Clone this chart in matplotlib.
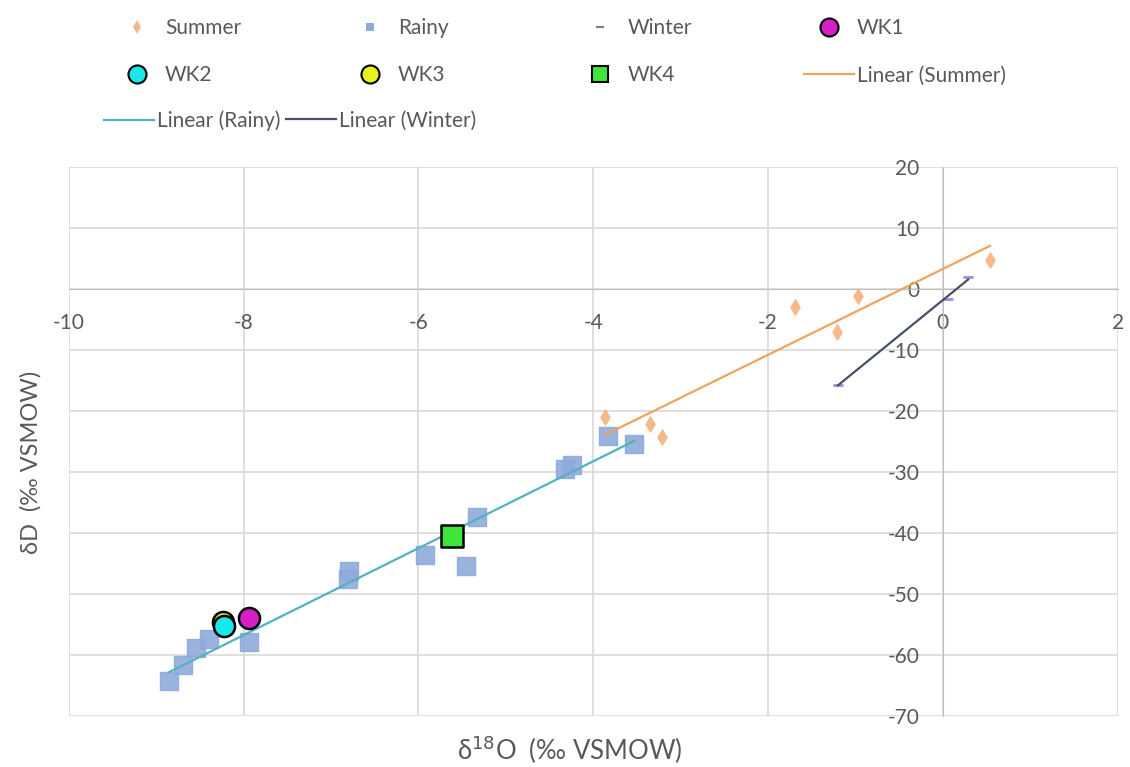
import numpy as np
import matplotlib
matplotlib.use("Agg")
import matplotlib.pyplot as plt
from matplotlib.lines import Line2D

plt.rcParams['font.family'] = ['Lato', 'DejaVu Sans']
plt.rcParams['axes.unicode_minus'] = False

# data
summer_x = [-3.87, -3.35, -3.21, -1.69, -1.21, -0.97, 0.54]
summer_y = [-21.0, -22.1, -24.3, -3.0, -7.0, -1.1, 4.8]

rainy_x = [-8.86, -8.70, -8.55, -8.40, -7.94, -6.81, -6.79, -5.93, -5.46, -5.33,
           -4.32, -4.24, -3.83, -3.53]
rainy_y = [-64.3, -61.6, -58.9, -57.4, -57.8, -47.6, -46.2, -43.6, -45.4, -37.4,
           -29.5, -28.9, -24.1, -25.4]

winter_x = [-1.20, 0.06, 0.29]
winter_y = [-15.7, -1.6, 2.0]

wk_names = ['WK1', 'WK2', 'WK3', 'WK4']
wk_x = [-7.94, -8.22, -8.24, -5.62]
wk_y = [-53.9, -55.3, -54.6, -40.5]
wk_colors = ['#d61fc8', '#19e8ea', '#e8f21c', '#3ee63a']
wk_markers = ['o', 'o', 'o', 's']

xticks = [-10, -8, -6, -4, -2, 0, 2]
yticks = [20, 10, 0, -10, -20, -30, -40, -50, -60, -70]

c_summer = '#f5b98a'
c_rainy = '#8eaadb'
c_winter = '#9d8fd6'
c_sline = '#f0a35c'
c_rline = '#52b3be'
c_wline = '#46506a'
grey = '#595959'

fig = plt.figure(figsize=(11.3, 7.67), dpi=100)
ax = fig.add_axes([0.061, 0.0665, 0.928, 0.7155])

ax.scatter(summer_x, summer_y, marker='d', s=60, color=c_summer, zorder=3)
ax.scatter(rainy_x, rainy_y, marker='s', s=150, color=c_rainy, alpha=0.9, zorder=3)
ax.scatter(winter_x, winter_y, marker='_', s=60, color=c_winter, linewidths=2, zorder=4)

def trend(xs, ys, color):
    k, b = np.polyfit(xs, ys, 1)
    xx = np.array([min(xs), max(xs)])
    ax.plot(xx, k * xx + b, color=color, lw=1.6, zorder=5)

trend(summer_x, summer_y, c_sline)
trend(rainy_x, rainy_y, c_rline)
trend(winter_x, winter_y, c_wline)

# WK3 drawn under WK2 like the reference
for i in [0, 2, 1, 3]:
    ax.scatter(wk_x[i], wk_y[i], marker=wk_markers[i], s=230, color=wk_colors[i],
               edgecolors='black', linewidths=1.8, zorder=6)

ax.set_xlim(-10, 2)
ax.set_ylim(-70, 20)
ax.set_xticks(xticks)
ax.set_yticks(yticks)
ax.grid(True, color='#d9d9d9', lw=1.2)
ax.set_axisbelow(True)
for s in ['top', 'right']:
    ax.spines[s].set_visible(False)
ax.spines['left'].set_position(('data', 0))
ax.spines['bottom'].set_position(('data', 0))
ax.spines['left'].set_color('#bfbfbf')
ax.spines['bottom'].set_color('#bfbfbf')
ax.tick_params(length=0, labelsize=15, labelcolor=grey, pad=17)

ax.set_xlabel('δ$^{18}$O  (‰ VSMOW)', fontsize=18.5, color=grey)
ax.set_ylabel('δD  (‰ VSMOW)', fontsize=17, color=grey)
ax.xaxis.set_label_coords(0.478, -0.032)
ax.yaxis.set_label_coords(-0.026, 0.463)

# legend placed column by column like the reference layout
def mk(marker, color, size, edge='none', lw=0):
    return Line2D([], [], ls='none', marker=marker, markersize=size, color=color,
                  markeredgecolor=edge, markeredgewidth=lw)

h = {
    'Summer': mk('d', c_summer, 7),
    'Rainy': mk('s', c_rainy, 6),
    'Winter': mk('_', '#7f7f7f', 6, '#7f7f7f', 1.5),
    'WK1': mk('o', wk_colors[0], 13, 'black', 1.5),
    'WK2': mk('o', wk_colors[1], 13, 'black', 1.5),
    'WK3': mk('o', wk_colors[2], 13, 'black', 1.5),
    'WK4': mk('s', wk_colors[3], 12, 'black', 1.5),
    'Linear (Summer)': Line2D([], [], color=c_sline, lw=1.6),
    'Linear (Rainy)': Line2D([], [], color=c_rline, lw=1.6),
    'Linear (Winter)': Line2D([], [], color=c_wline, lw=1.6),
}
cols = [['Summer', 'WK2'], ['Rainy', 'WK3'], ['Winter', 'WK4'], ['WK1', 'Linear (Summer)']]
col_x = [112, 345, 575, 804]
for names, x0 in zip(cols, col_x):
    fig.legend([h[k] for k in names], names, loc='upper left',
               bbox_to_anchor=(x0 / 1130, 0.976), ncol=1, frameon=False,
               borderpad=0, borderaxespad=0, fontsize=15, labelcolor=grey,
               handlelength=2.4, handletextpad=0.15, labelspacing=1.3)
row3 = ['Linear (Rainy)', 'Linear (Winter)']
for name, x0 in zip(row3, [104, 286]):
    fig.legend([h[name]], [name], loc='upper left',
               bbox_to_anchor=(x0 / 1130, 0.856), frameon=False, borderpad=0,
               borderaxespad=0, fontsize=15, labelcolor=grey, handlelength=2.4,
               handletextpad=0.15)

fig.savefig('out.png', dpi=100)
